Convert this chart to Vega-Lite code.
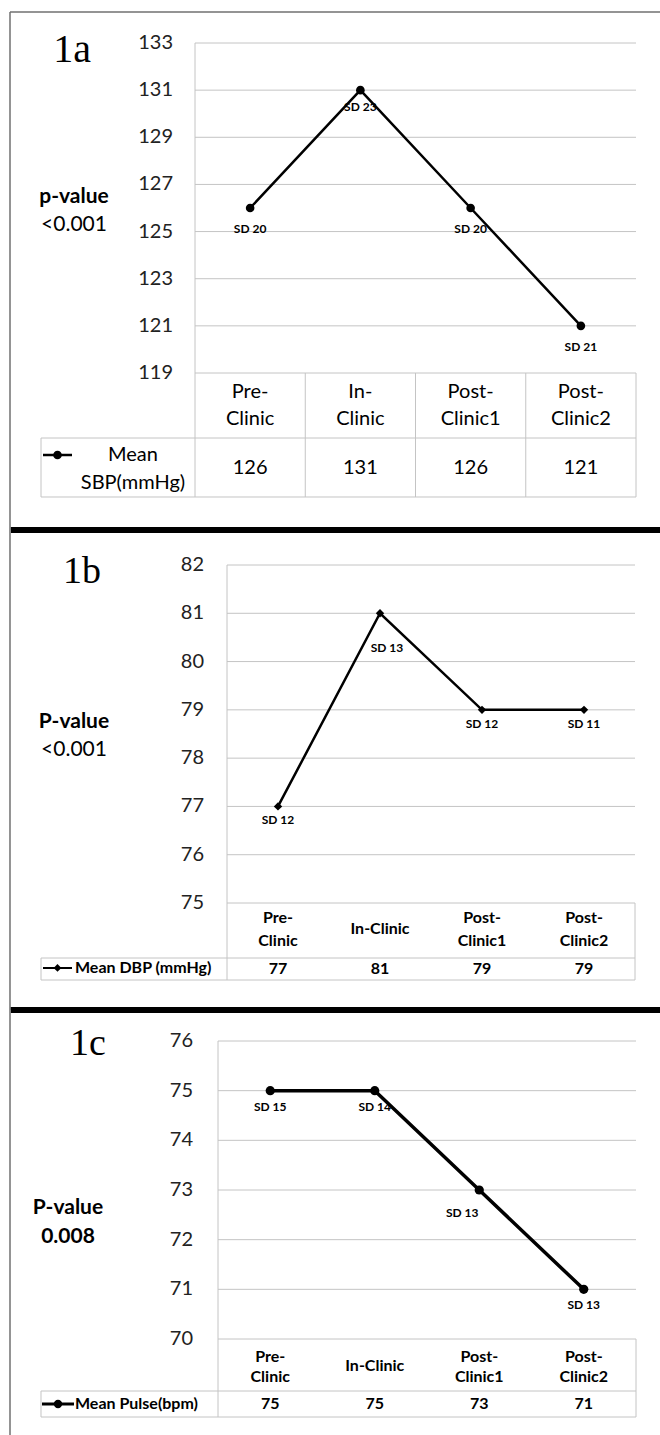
{
  "$schema": "https://vega.github.io/schema/vega-lite/v6.json",
  "padding": 0,
  "background": "white",
  "spacing": 0,
  "bounds": "flush",
  "config": {
    "view": {"stroke": null},
    "axis": {"disable": true},
    "text": {"font": "Lato", "color": "#000000"},
    "rule": {"color": "#c4c4c4", "strokeWidth": 1}
  },
  "datasets": {
    "sbp": [
      {"visit": 1, "time": "Pre-Clinic", "header": "Pre-\nClinic", "mean": 126, "sd": "SD 20"},
      {"visit": 2, "time": "In-Clinic", "header": "In-\nClinic", "mean": 131, "sd": "SD 23"},
      {"visit": 3, "time": "Post-Clinic1", "header": "Post-\nClinic1", "mean": 126, "sd": "SD 20"},
      {"visit": 4, "time": "Post-Clinic2", "header": "Post-\nClinic2", "mean": 121, "sd": "SD 21"}
    ],
    "dbp": [
      {"visit": 1, "time": "Pre-Clinic", "header": "Pre-\nClinic", "mean": 77, "sd": "SD 12"},
      {"visit": 2, "time": "In-Clinic", "header": "In-Clinic", "mean": 81, "sd": "SD 13"},
      {"visit": 3, "time": "Post-Clinic1", "header": "Post-\nClinic1", "mean": 79, "sd": "SD 12"},
      {"visit": 4, "time": "Post-Clinic2", "header": "Post-\nClinic2", "mean": 79, "sd": "SD 11"}
    ],
    "pulse": [
      {"visit": 1, "time": "Pre-Clinic", "header": "Pre-\nClinic", "mean": 75, "sd": "SD 15"},
      {"visit": 2, "time": "In-Clinic", "header": "In-Clinic", "mean": 75, "sd": "SD 14"},
      {"visit": 3, "time": "Post-Clinic1", "header": "Post-\nClinic1", "mean": 73, "sd": "SD 13"},
      {"visit": 4, "time": "Post-Clinic2", "header": "Post-\nClinic2", "mean": 71, "sd": "SD 13"}
    ],
    "sbpTicks": [{"tick": 119}, {"tick": 121}, {"tick": 123}, {"tick": 125}, {"tick": 127}, {"tick": 129}, {"tick": 131}, {"tick": 133}],
    "dbpTicks": [{"tick": 75}, {"tick": 76}, {"tick": 77}, {"tick": 78}, {"tick": 79}, {"tick": 80}, {"tick": 81}, {"tick": 82}],
    "pulseTicks": [{"tick": 70}, {"tick": 71}, {"tick": 72}, {"tick": 73}, {"tick": 74}, {"tick": 75}, {"tick": 76}],
    "one": [{}]
  },
  "vconcat": [
    {
      "width": 660,
      "height": 530,
      "data": {"name": "sbp"},
      "layer": [
        {"data": {"name": "sbpTicks"}, "mark": {"type": "rule"},
         "encoding": {
           "y": {"field": "tick", "type": "quantitative", "scale": {"domain": [119, 133], "range": [373, 43], "zero": false, "nice": false}},
           "x": {"datum": 0.5, "scale": {"domain": [0.5, 4.5], "range": [195, 636], "zero": false, "nice": false}},
           "x2": {"datum": 4.5}}},
        {"data": {"name": "sbpTicks"}, "mark": {"type": "text", "align": "right", "baseline": "middle", "fontSize": 20, "color": "#222222"},
         "encoding": {"y": {"field": "tick", "type": "quantitative"}, "x": {"datum": 0.3005}, "text": {"field": "tick", "type": "quantitative"}}},
        {"data": {"name": "one"}, "mark": {"type": "rule"}, "encoding": {"x": {"datum": 0.5}, "y": {"datum": 133}, "y2": {"datum": 113.7394}}},
        {"data": {"name": "one"}, "mark": {"type": "rule"}, "encoding": {"x": {"datum": 1.5}, "y": {"datum": 119}, "y2": {"datum": 113.7394}}},
        {"data": {"name": "one"}, "mark": {"type": "rule"}, "encoding": {"x": {"datum": 2.5}, "y": {"datum": 119}, "y2": {"datum": 113.7394}}},
        {"data": {"name": "one"}, "mark": {"type": "rule"}, "encoding": {"x": {"datum": 3.5}, "y": {"datum": 119}, "y2": {"datum": 113.7394}}},
        {"data": {"name": "one"}, "mark": {"type": "rule"}, "encoding": {"x": {"datum": 4.5}, "y": {"datum": 119}, "y2": {"datum": 113.7394}}},
        {"data": {"name": "one"}, "mark": {"type": "rule"}, "encoding": {"x": {"datum": -0.8968}, "y": {"datum": 116.2424}, "y2": {"datum": 113.7394}}},
        {"data": {"name": "one"}, "mark": {"type": "rule"}, "encoding": {"y": {"datum": 116.2424}, "x": {"datum": -0.8968}, "x2": {"datum": 4.5}}},
        {"data": {"name": "one"}, "mark": {"type": "rule"}, "encoding": {"y": {"datum": 113.7394}, "x": {"datum": -0.8968}, "x2": {"datum": 4.5}}},
        {"mark": {"type": "line", "color": "#000000", "strokeWidth": 2.5},
         "encoding": {"x": {"field": "visit", "type": "quantitative"}, "y": {"field": "mean", "type": "quantitative"}}},
        {"mark": {"type": "point", "filled": true, "shape": "circle", "size": 75, "color": "#000000", "opacity": 1},
         "encoding": {"x": {"field": "visit", "type": "quantitative"}, "y": {"field": "mean", "type": "quantitative"}}},
        {"transform": [{"filter": "datum.time !== 'In-Clinic'"}],
         "mark": {"type": "text", "fontSize": 12, "fontWeight": "bold", "baseline": "middle", "dy": 21},
         "encoding": {"x": {"field": "visit", "type": "quantitative"}, "y": {"field": "mean", "type": "quantitative"}, "text": {"field": "sd"}}},
        {"transform": [{"filter": "datum.time === 'In-Clinic'"}],
         "mark": {"type": "text", "fontSize": 12, "fontWeight": "bold", "baseline": "middle", "dy": 17},
         "encoding": {"x": {"field": "visit", "type": "quantitative"}, "y": {"field": "mean", "type": "quantitative"}, "text": {"field": "sd"}}},
        {"mark": {"type": "text", "fontSize": 20, "baseline": "middle", "lineBreak": "\n", "lineHeight": 27},
         "encoding": {"x": {"field": "visit", "type": "quantitative"}, "y": {"datum": 118.194}, "text": {"field": "header"}}},
        {"mark": {"type": "text", "fontSize": 20, "baseline": "middle"},
         "encoding": {"x": {"field": "visit", "type": "quantitative"}, "y": {"datum": 114.9697}, "text": {"field": "mean", "type": "quantitative"}}},
        {"data": {"name": "one"}, "mark": {"type": "rule", "color": "#000000", "strokeWidth": 2.5}, "encoding": {"y": {"datum": 115.5212}, "x": {"datum": -0.8787}, "x2": {"datum": -0.6156}}},
        {"data": {"name": "one"}, "mark": {"type": "point", "filled": true, "shape": "circle", "size": 75, "color": "#000000", "opacity": 1}, "encoding": {"x": {"datum": -0.7472}, "y": {"datum": 115.5212}}},
        {"data": {"name": "one"}, "mark": {"type": "text", "text": "Mean\nSBP(mmHg)", "lineBreak": "\n", "lineHeight": 28, "fontSize": 20, "baseline": "middle"}, "encoding": {"x": {"datum": -0.0624}, "y": {"datum": 115.5212}}},
        {"data": {"name": "one"}, "mark": {"type": "text", "text": "1a", "font": "Liberation Serif", "fontSize": 40, "baseline": "alphabetic"}, "encoding": {"x": {"datum": -0.6156}, "y": {"datum": 132.194}}},
        {"data": {"name": "one"}, "mark": {"type": "text", "text": "p-value", "fontSize": 21, "fontWeight": "bold", "baseline": "middle"}, "encoding": {"x": {"datum": -0.5975}, "y": {"datum": 126.4667}}},
        {"data": {"name": "one"}, "mark": {"type": "text", "text": "<0.001", "fontSize": 21, "baseline": "middle"}, "encoding": {"x": {"datum": -0.5975}, "y": {"datum": 125.2788}}},
        {"data": {"name": "one"}, "mark": {"type": "rule", "color": "#707070", "strokeWidth": 1.5}, "encoding": {"y": {"datum": 134.3152}, "x": {"datum": -1.178}, "x2": {"datum": 4.7177}}},
        {"data": {"name": "one"}, "mark": {"type": "rule", "color": "#707070", "strokeWidth": 1.5}, "encoding": {"x": {"datum": -1.178}, "y": {"datum": 134.3152}, "y2": {"datum": 112.3394}}},
        {"data": {"name": "one"}, "mark": {"type": "rule", "color": "#000000", "strokeWidth": 6}, "encoding": {"y": {"datum": 112.3394}, "x": {"datum": -1.17}, "x2": {"datum": 4.7177}}}
      ]
    },
    {
      "width": 660,
      "height": 480,
      "data": {"name": "dbp"},
      "layer": [
        {"data": {"name": "dbpTicks"}, "mark": {"type": "rule"},
         "encoding": {
           "y": {"field": "tick", "type": "quantitative", "scale": {"domain": [75, 82], "range": [373, 35], "zero": false, "nice": false}},
           "x": {"datum": 0.5, "scale": {"domain": [0.5, 4.5], "range": [227, 635], "zero": false, "nice": false}},
           "x2": {"datum": 4.5}}},
        {"data": {"name": "dbpTicks"}, "mark": {"type": "text", "align": "right", "baseline": "middle", "fontSize": 20, "color": "#222222"},
         "encoding": {"y": {"field": "tick", "type": "quantitative"}, "x": {"datum": 0.2745}, "text": {"field": "tick", "type": "quantitative"}}},
        {"data": {"name": "one"}, "mark": {"type": "rule"}, "encoding": {"x": {"datum": 0.5}, "y": {"datum": 82}, "y2": {"datum": 73.4053}}},
        {"data": {"name": "one"}, "mark": {"type": "rule"}, "encoding": {"x": {"datum": 4.5}, "y": {"datum": 75}, "y2": {"datum": 73.4053}}},
        {"data": {"name": "one"}, "mark": {"type": "rule"}, "encoding": {"x": {"datum": -1.3235}, "y": {"datum": 73.8609}, "y2": {"datum": 73.4053}}},
        {"data": {"name": "one"}, "mark": {"type": "rule"}, "encoding": {"y": {"datum": 73.8609}, "x": {"datum": -1.3235}, "x2": {"datum": 4.5}}},
        {"data": {"name": "one"}, "mark": {"type": "rule"}, "encoding": {"y": {"datum": 73.4053}, "x": {"datum": -1.3235}, "x2": {"datum": 4.5}}},
        {"mark": {"type": "line", "color": "#000000", "strokeWidth": 2.5},
         "encoding": {"x": {"field": "visit", "type": "quantitative"}, "y": {"field": "mean", "type": "quantitative"}}},
        {"mark": {"type": "point", "filled": true, "shape": "diamond", "size": 70, "color": "#000000", "opacity": 1},
         "encoding": {"x": {"field": "visit", "type": "quantitative"}, "y": {"field": "mean", "type": "quantitative"}}},
        {"transform": [{"filter": "datum.time !== 'In-Clinic'"}],
         "mark": {"type": "text", "fontSize": 12, "fontWeight": "bold", "baseline": "middle", "dy": 14},
         "encoding": {"x": {"field": "visit", "type": "quantitative"}, "y": {"field": "mean", "type": "quantitative"}, "text": {"field": "sd"}}},
        {"transform": [{"filter": "datum.time === 'In-Clinic'"}],
         "mark": {"type": "text", "fontSize": 12, "fontWeight": "bold", "baseline": "middle", "dy": 35, "dx": 7},
         "encoding": {"x": {"field": "visit", "type": "quantitative"}, "y": {"field": "mean", "type": "quantitative"}, "text": {"field": "sd"}}},
        {"transform": [{"filter": "datum.time !== 'In-Clinic'"}],
         "mark": {"type": "text", "fontSize": 16, "fontWeight": "bold", "baseline": "middle", "lineBreak": "\n", "lineHeight": 23},
         "encoding": {"x": {"field": "visit", "type": "quantitative"}, "y": {"datum": 74.6893}, "text": {"field": "header"}}},
        {"transform": [{"filter": "datum.time === 'In-Clinic'"}],
         "mark": {"type": "text", "fontSize": 16, "fontWeight": "bold", "baseline": "middle"},
         "encoding": {"x": {"field": "visit", "type": "quantitative"}, "y": {"datum": 74.4615}, "text": {"field": "header"}}},
        {"mark": {"type": "text", "fontSize": 16, "fontWeight": "bold", "baseline": "middle"},
         "encoding": {"x": {"field": "visit", "type": "quantitative"}, "y": {"datum": 73.6331}, "text": {"field": "mean", "type": "quantitative"}}},
        {"data": {"name": "one"}, "mark": {"type": "rule", "color": "#000000", "strokeWidth": 2}, "encoding": {"y": {"datum": 73.6539}, "x": {"datum": -1.3039}, "x2": {"datum": -1.0196}}},
        {"data": {"name": "one"}, "mark": {"type": "point", "filled": true, "shape": "diamond", "size": 60, "color": "#000000", "opacity": 1}, "encoding": {"x": {"datum": -1.1618}, "y": {"datum": 73.6539}}},
        {"data": {"name": "one"}, "mark": {"type": "text", "text": "Mean DBP (mmHg)", "fontSize": 16, "fontWeight": "bold", "align": "left", "baseline": "middle"}, "encoding": {"x": {"datum": -0.9902}, "y": {"datum": 73.6539}}},
        {"data": {"name": "one"}, "mark": {"type": "text", "text": "1b", "font": "Liberation Serif", "fontSize": 38, "baseline": "alphabetic"}, "encoding": {"x": {"datum": -0.9216}, "y": {"datum": 81.6272}}},
        {"data": {"name": "one"}, "mark": {"type": "text", "text": "P-value", "fontSize": 21, "fontWeight": "bold", "baseline": "middle"}, "encoding": {"x": {"datum": -1.0}, "y": {"datum": 78.7485}}},
        {"data": {"name": "one"}, "mark": {"type": "text", "text": "<0.001", "fontSize": 21, "baseline": "middle"}, "encoding": {"x": {"datum": -1.0}, "y": {"datum": 78.1686}}},
        {"data": {"name": "one"}, "mark": {"type": "rule", "color": "#707070", "strokeWidth": 1.5}, "encoding": {"x": {"datum": -1.6275}, "y": {"datum": 82.7249}, "y2": {"datum": 72.784}}},
        {"data": {"name": "one"}, "mark": {"type": "rule", "color": "#000000", "strokeWidth": 6}, "encoding": {"y": {"datum": 72.784}, "x": {"datum": -1.62}, "x2": {"datum": 4.7451}}}
      ]
    },
    {
      "width": 660,
      "height": 425,
      "data": {"name": "pulse"},
      "layer": [
        {"data": {"name": "pulseTicks"}, "mark": {"type": "rule"},
         "encoding": {
           "y": {"field": "tick", "type": "quantitative", "scale": {"domain": [70, 76], "range": [329, 31], "zero": false, "nice": false}},
           "x": {"datum": 0.5, "scale": {"domain": [0.5, 4.5], "range": [218, 636], "zero": false, "nice": false}},
           "x2": {"datum": 4.5}}},
        {"data": {"name": "pulseTicks"}, "mark": {"type": "text", "align": "right", "baseline": "middle", "fontSize": 20, "color": "#222222"},
         "encoding": {"y": {"field": "tick", "type": "quantitative"}, "x": {"datum": 0.2608}, "text": {"field": "tick", "type": "quantitative"}}},
        {"data": {"name": "one"}, "mark": {"type": "rule"}, "encoding": {"x": {"datum": 0.5}, "y": {"datum": 76}, "y2": {"datum": 68.4295}}},
        {"data": {"name": "one"}, "mark": {"type": "rule"}, "encoding": {"x": {"datum": 4.5}, "y": {"datum": 70}, "y2": {"datum": 68.4295}}},
        {"data": {"name": "one"}, "mark": {"type": "rule"}, "encoding": {"x": {"datum": -1.1938}, "y": {"datum": 68.953}, "y2": {"datum": 68.4295}}},
        {"data": {"name": "one"}, "mark": {"type": "rule"}, "encoding": {"y": {"datum": 68.953}, "x": {"datum": -1.1938}, "x2": {"datum": 4.5}}},
        {"data": {"name": "one"}, "mark": {"type": "rule"}, "encoding": {"y": {"datum": 68.4295}, "x": {"datum": -1.1938}, "x2": {"datum": 4.5}}},
        {"mark": {"type": "line", "color": "#000000", "strokeWidth": 3.5},
         "encoding": {"x": {"field": "visit", "type": "quantitative"}, "y": {"field": "mean", "type": "quantitative"}}},
        {"mark": {"type": "point", "filled": true, "shape": "circle", "size": 85, "color": "#000000", "opacity": 1},
         "encoding": {"x": {"field": "visit", "type": "quantitative"}, "y": {"field": "mean", "type": "quantitative"}}},
        {"transform": [{"filter": "datum.time !== 'Post-Clinic1'"}],
         "mark": {"type": "text", "fontSize": 12, "fontWeight": "bold", "baseline": "middle", "dy": 16},
         "encoding": {"x": {"field": "visit", "type": "quantitative"}, "y": {"field": "mean", "type": "quantitative"}, "text": {"field": "sd"}}},
        {"transform": [{"filter": "datum.time === 'Post-Clinic1'"}],
         "mark": {"type": "text", "fontSize": 12, "fontWeight": "bold", "baseline": "middle", "dy": 23, "dx": -17},
         "encoding": {"x": {"field": "visit", "type": "quantitative"}, "y": {"field": "mean", "type": "quantitative"}, "text": {"field": "sd"}}},
        {"transform": [{"filter": "datum.time !== 'In-Clinic'"}],
         "mark": {"type": "text", "fontSize": 16, "fontWeight": "bold", "baseline": "middle", "lineBreak": "\n", "lineHeight": 20},
         "encoding": {"x": {"field": "visit", "type": "quantitative"}, "y": {"datum": 69.6376}, "text": {"field": "header"}}},
        {"transform": [{"filter": "datum.time === 'In-Clinic'"}],
         "mark": {"type": "text", "fontSize": 16, "fontWeight": "bold", "baseline": "middle"},
         "encoding": {"x": {"field": "visit", "type": "quantitative"}, "y": {"datum": 69.4564}, "text": {"field": "header"}}},
        {"mark": {"type": "text", "fontSize": 16, "fontWeight": "bold", "baseline": "middle"},
         "encoding": {"x": {"field": "visit", "type": "quantitative"}, "y": {"datum": 68.6913}, "text": {"field": "mean", "type": "quantitative"}}},
        {"data": {"name": "one"}, "mark": {"type": "rule", "color": "#000000", "strokeWidth": 3}, "encoding": {"y": {"datum": 68.6913}, "x": {"datum": -1.1842}, "x2": {"datum": -0.878}}},
        {"data": {"name": "one"}, "mark": {"type": "point", "filled": true, "shape": "circle", "size": 70, "color": "#000000", "opacity": 1}, "encoding": {"x": {"datum": -1.0311}, "y": {"datum": 68.6913}}},
        {"data": {"name": "one"}, "mark": {"type": "text", "text": "Mean Pulse(bpm)", "fontSize": 16, "fontWeight": "bold", "align": "left", "baseline": "middle"}, "encoding": {"x": {"datum": -0.8684}, "y": {"datum": 68.6913}}},
        {"data": {"name": "one"}, "mark": {"type": "text", "text": "1c", "font": "Liberation Serif", "fontSize": 38, "baseline": "alphabetic"}, "encoding": {"x": {"datum": -0.744}, "y": {"datum": 75.7181}}},
        {"data": {"name": "one"}, "mark": {"type": "text", "text": "P-value", "fontSize": 21, "fontWeight": "bold", "baseline": "middle"}, "encoding": {"x": {"datum": -0.9354}, "y": {"datum": 72.6376}}},
        {"data": {"name": "one"}, "mark": {"type": "text", "text": "0.008", "fontSize": 21, "fontWeight": "bold", "baseline": "middle"}, "encoding": {"x": {"datum": -0.9354}, "y": {"datum": 72.0537}}},
        {"data": {"name": "one"}, "mark": {"type": "rule", "color": "#707070", "strokeWidth": 1.5}, "encoding": {"x": {"datum": -1.4904}, "y": {"datum": 76.6242}, "y2": {"datum": 68.0671}}}
      ]
    }
  ]
}
